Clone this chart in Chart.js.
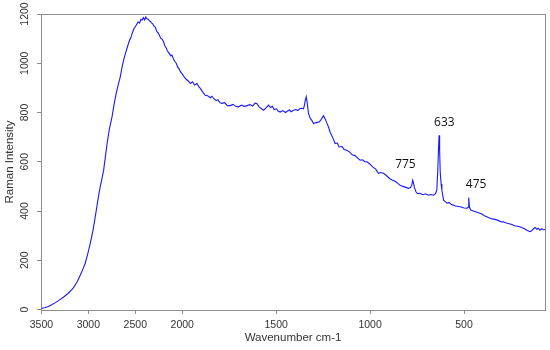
<!DOCTYPE html>
<html>
<head>
<meta charset="utf-8">
<script src="https://cdn.jsdelivr.net/npm/chart.js@4/dist/chart.umd.min.js"></script>
<style>
  html, body { margin: 0; padding: 0; background: #fff; }
  #wrap { width: 550px; height: 350px; }
</style>
</head>
<body>
<div id="wrap"><canvas id="spectrum" width="550" height="350"></canvas></div>
<script>
// wavenumber (cm-1), high to low
const wavenumbers = [
  3500, 3460, 3425, 3390, 3351, 3310, 3266, 3220, 3174, 3160, 3120, 3085, 3060, 3032, 3005, 2979,
  2950, 2926, 2905, 2883, 2860, 2837, 2818, 2798, 2775, 2748, 2725, 2702, 2680, 2660, 2642, 2625,
  2605, 2585, 2560, 2548, 2535, 2515, 2500, 2489, 2470, 2455, 2440, 2429, 2415, 2400, 2388, 2376,
  2362, 2350, 2338, 2330, 2315, 2300, 2287, 2270, 2258, 2245, 2230, 2215, 2199, 2185, 2170, 2160,
  2149, 2135, 2122, 2110, 2095, 2080, 2064, 2050, 2035, 2020, 2003, 1990, 1979, 1968, 1957, 1945,
  1935, 1922, 1912, 1904, 1890, 1878, 1865, 1850, 1842, 1833, 1820, 1810, 1800, 1789, 1775, 1760,
  1745, 1730, 1715, 1700, 1685, 1670, 1654, 1640, 1625, 1612, 1603, 1590, 1578, 1567, 1555, 1541,
  1530, 1520, 1511, 1498, 1490, 1479, 1465, 1450, 1441, 1430, 1420, 1408, 1395, 1385, 1375, 1363,
  1355, 1351, 1345, 1340, 1335, 1328, 1318, 1310, 1301, 1290, 1280, 1270, 1260, 1248, 1238, 1229,
  1220, 1213, 1200, 1186, 1175, 1165, 1150, 1138, 1124, 1110, 1095, 1080, 1066, 1053, 1040, 1028,
  1017, 1000, 985, 970, 956, 943, 929, 915, 905, 893, 880, 865, 852, 840, 825, 810,
  796, 785, 778, 773, 768, 764, 756, 748, 735, 720, 705, 690, 677, 663, 652, 645,
  640, 636, 633, 630, 627, 622, 618, 609, 600, 590, 578, 567, 556, 545, 530, 515,
  500, 485, 478, 475, 471, 464, 450, 435, 420, 405, 392, 379, 365, 350, 335, 320,
  305, 291, 275, 260, 245, 230, 215, 202, 190, 178, 165, 149, 140, 130, 122, 112,
  104, 96, 86, 78, 69
];
const intensity = [
  4, 8, 12, 19, 28, 38, 50, 64, 82, 88, 112, 140, 162, 189, 228, 270,
  322, 377, 428, 480, 522, 566, 622, 680, 735, 782, 835, 880, 915, 945, 982, 1012,
  1040, 1065, 1095, 1102, 1120, 1140, 1148, 1155, 1168, 1163, 1178, 1175, 1185, 1176, 1188, 1181,
  1179, 1172, 1170, 1165, 1160, 1150, 1147, 1128, 1124, 1115, 1102, 1098, 1087, 1070, 1062, 1052,
  1045, 1038, 1030, 1033, 1018, 1008, 1000, 985, 978, 966, 958, 945, 935, 928, 918, 925,
  912, 918, 905, 898, 882, 870, 868, 860, 866, 857, 848, 852, 840, 837, 840, 828,
  828, 833, 825, 823, 830, 825, 828, 832, 826, 838, 837, 822, 815, 809, 818, 830,
  820, 825, 812, 815, 806, 802, 808, 800, 805, 810, 803, 809, 812, 808, 815, 817,
  815, 825, 850, 864, 840, 796, 775, 768, 755, 758, 760, 762, 772, 787, 772, 755,
  738, 720, 700, 674, 676, 660, 662, 650, 647, 640, 628, 625, 615, 606, 608, 600,
  600, 590, 578, 570, 553, 556, 553, 545, 538, 530, 525, 520, 512, 505, 500, 496,
  492, 495, 505, 525, 510, 495, 478, 471, 472, 466, 470, 464, 467, 464, 470, 485,
  560, 650, 708, 650, 560, 510, 485, 444, 438, 432, 434, 426, 424, 420, 418, 416,
  412, 411, 415, 455, 415, 404, 400, 396, 392, 388, 381, 377, 372, 368, 366, 362,
  357, 356, 351, 348, 345, 340, 338, 336, 332, 328, 322, 316, 320, 328, 333, 326,
  330, 322, 328, 324, 325
];
const xTickLabels = [3500, 3000, 2500, 2000, 1500, 1000, 500];
const yTickLabels = [0, 200, 400, 600, 800, 1000, 1200];
const peakLabels = ["775", "633", "475"];
const peakLabelAt = [[812, 590], [605, 761], [436, 509]]; // text centre, in data units

// the axis is squeezed by half above 2000 cm-1
const toAxis = (w) => (w > 2000 ? 2000 + (w - 2000) / 2 : w);
const fromAxis = (u) => (u > 2000 ? 2000 + (u - 2000) * 2 : u);

const points = wavenumbers.map((w, i) => ({ x: toAxis(w), y: intensity[i] }));

const axisGrey = "#8c8c8c";
const textColor = "#333333";
const tickFont = { family: "'Liberation Sans', Arial, sans-serif", size: 10.5 };

const frameAndLabels = {
  id: "frameAndLabels",
  afterDatasetsDraw(chart) {
    const { ctx, chartArea: a, scales } = chart;
    ctx.save();
    ctx.strokeStyle = axisGrey;
    ctx.lineWidth = 1;
    ctx.beginPath();
    ctx.moveTo(Math.round(a.left) + 0.5, Math.round(a.top) + 0.5);
    ctx.lineTo(Math.round(a.right) + 0.5, Math.round(a.top) + 0.5);
    ctx.lineTo(Math.round(a.right) + 0.5, Math.round(a.bottom) + 0.5);
    ctx.stroke();

    ctx.fillStyle = "#111111";
    ctx.font = "12px 'Open Sans', 'Noto Sans', sans-serif";
    ctx.textAlign = "center";
    ctx.textBaseline = "middle";
    peakLabels.forEach((txt, i) => {
      const [w, v] = peakLabelAt[i];
      ctx.fillText(txt, scales.x.getPixelForValue(toAxis(w)), scales.y.getPixelForValue(v));
    });
    ctx.restore();
  }
};

new Chart(document.getElementById("spectrum"), {
  type: "line",
  data: {
    datasets: [{
      data: points,
      borderColor: "rgb(24,24,255)",
      borderWidth: 1.1,
      pointRadius: 0,
      tension: 0,
      fill: false
    }]
  },
  options: {
    responsive: false,
    animation: false,
    layout: { padding: { top: 14, right: 5, left: 0, bottom: 0 } },
    plugins: { legend: { display: false }, tooltip: { enabled: false } },
    scales: {
      x: {
        type: "linear",
        reverse: true,
        min: toAxis(69),
        max: toAxis(3504),
        afterBuildTicks: (scale) => { scale.ticks = xTickLabels.map((w) => ({ value: toAxis(w) })); },
        afterFit: (scale) => { scale.height = 40; },
        grid: { drawOnChartArea: false, drawTicks: true, tickLength: 4, color: axisGrey },
        border: { display: true, color: axisGrey },
        ticks: {
          autoSkip: false, maxRotation: 0, padding: 5, color: textColor, font: tickFont,
          callback: (v) => String(Math.round(fromAxis(v)))
        },
        title: {
          display: true, text: "Wavenumber cm-1", color: textColor,
          font: { family: "'Liberation Sans', Arial, sans-serif", size: 11.5 },
          padding: { top: 0, bottom: 5 }
        }
      },
      y: {
        min: -2,
        max: 1200,
        afterBuildTicks: (scale) => { scale.ticks = yTickLabels.map((v) => ({ value: v })); },
        afterFit: (scale) => { scale.width = 41; },
        grid: { drawOnChartArea: false, drawTicks: true, tickLength: 4, color: axisGrey },
        border: { display: true, color: axisGrey },
        ticks: {
          minRotation: 90, maxRotation: 90, crossAlign: "center", padding: 0,
          color: textColor, font: tickFont,
          callback: (v) => String(v)
        },
        title: {
          display: true, text: "Raman Intensity", color: textColor,
          font: { family: "'Liberation Sans', Arial, sans-serif", size: 11.5 },
          padding: { top: 3, bottom: 0 }
        }
      }
    }
  },
  plugins: [frameAndLabels]
});
</script>
</body>
</html>
